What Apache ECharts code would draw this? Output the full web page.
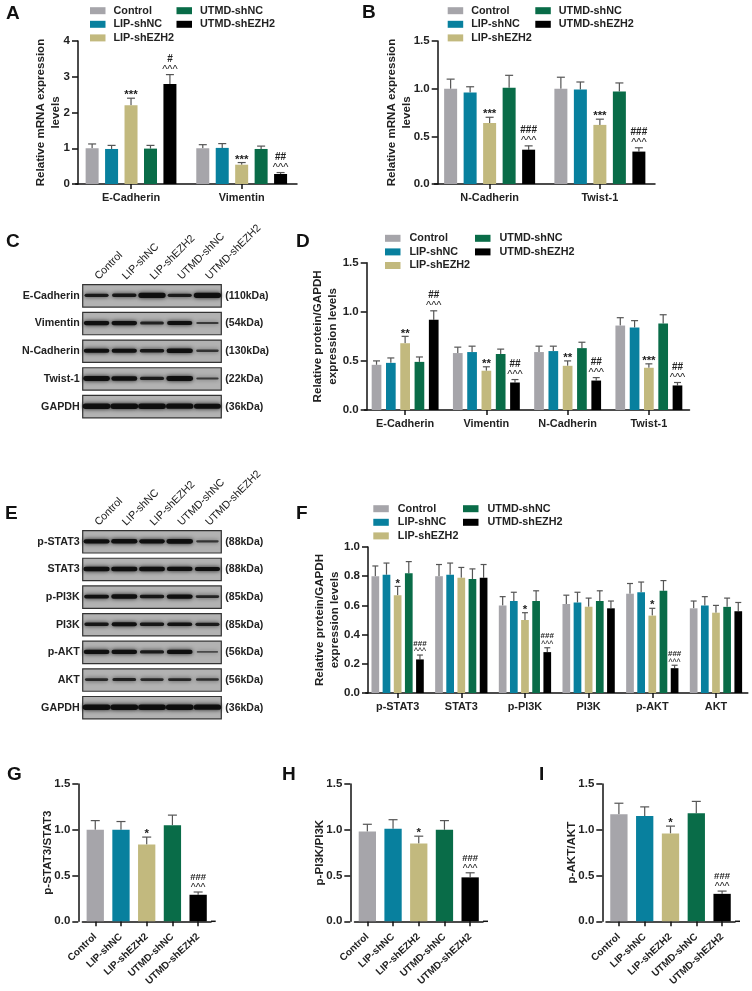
<!DOCTYPE html>
<html><head><meta charset="utf-8">
<style>html,body{margin:0;padding:0;background:#fff}#c{width:752px;height:991px}</style>
<script src="https://cdn.jsdelivr.net/npm/echarts@6/dist/echarts.min.js"></script>
</head><body><div id="c"></div>
<script>
const groups = ['Control','LIP-shNC','LIP-shEZH2','UTMD-shNC','UTMD-shEZH2'];
const colors = ['#A6A5AA','#08809E','#C2B97E','#096C48','#000000'];

// Panel A (one row per group)
const aCats = ['E-Cadherin','Vimentin'];
const aMeans = [[1.0,1.0],[0.98,1.01],[2.2,0.54],[0.99,0.98],[2.8,0.28]];
const aUppers = [[1.12,1.1],[1.08,1.13],[2.4,0.6],[1.08,1.06],[3.06,0.32]];
const aMarks = [['',''],['',''],['***','***'],['',''],['^^^ #','^^^ ##']];
// Panel B
const bCats = ['N-Cadherin','Twist-1'];
const bMeans = [[1.0,1.0],[0.96,0.99],[0.64,0.62],[1.01,0.97],[0.36,0.34]];
const bUppers = [[1.1,1.12],[1.02,1.07],[0.7,0.68],[1.14,1.06],[0.4,0.38]];
const bMarks = [['',''],['',''],['***','***'],['',''],['^^^ ###','^^^ ###']];
// Panel D
const dCats = ['E-Cadherin','Vimentin','N-Cadherin','Twist-1'];
const dMeans = [[0.46,0.58,0.59,0.86],[0.48,0.59,0.6,0.84],[0.68,0.4,0.45,0.43],[0.49,0.57,0.63,0.88],[0.92,0.28,0.3,0.25]];
const dUppers = [[0.5,0.64,0.65,0.94],[0.53,0.65,0.65,0.91],[0.75,0.44,0.5,0.47],[0.54,0.62,0.69,0.97],[1.01,0.31,0.33,0.28]];
const dMarks = [['','','',''],['','','',''],['**','**','**','***'],['','','',''],['^^^ ##','^^^ ##','^^^ ##','^^^ ##']];
// Panel F
const fCats = ['p-STAT3','STAT3','p-PI3K','PI3K','p-AKT','AKT'];
const fMeans = [[0.8,0.8,0.6,0.61,0.68,0.58],[0.81,0.81,0.63,0.62,0.69,0.6],[0.67,0.79,0.5,0.59,0.53,0.55],[0.82,0.78,0.63,0.63,0.7,0.59],[0.23,0.79,0.28,0.58,0.17,0.56]];
const fUppers = [[0.87,0.88,0.66,0.67,0.75,0.63],[0.89,0.89,0.69,0.69,0.76,0.66],[0.73,0.86,0.55,0.65,0.58,0.6],[0.9,0.85,0.7,0.7,0.77,0.65],[0.26,0.88,0.31,0.63,0.19,0.62]];
const fMarks = [['','','','','',''],['','','','','',''],['*','','*','','*',''],['','','','','',''],['^^^ ###','','^^^ ###','','^^^ ###','']];
// Panels G, H, I
const gMeans = [1.0,1.0,0.84,1.05,0.29];
const gUppers = [1.1,1.09,0.92,1.16,0.32];
const hMeans = [0.98,1.01,0.85,1.0,0.48];
const hUppers = [1.06,1.11,0.93,1.1,0.53];
const iMeans = [1.17,1.15,0.96,1.18,0.3];
const iUppers = [1.29,1.25,1.04,1.31,0.33];
const singleMarks = ['','','*','','^^^ ###'];
// Blots: relative band intensity, row by lane
const cRows = ['E-Cadherin','Vimentin','N-Cadherin','Twist-1','GAPDH'];
const cSizes = ['(110kDa)','(54kDa)','(130kDa)','(22kDa)','(36kDa)'];
const cBands = [[0.5,0.55,0.95,0.5,0.95],[0.7,0.7,0.45,0.65,0.25],[0.7,0.65,0.55,0.8,0.28],[0.88,0.75,0.5,0.88,0.25],[1,1,1,0.95,0.9]];
const eRows = ['p-STAT3','STAT3','p-PI3K','PI3K','p-AKT','AKT','GAPDH'];
const eSizes = ['(88kDa)','(88kDa)','(85kDa)','(85kDa)','(56kDa)','(56kDa)','(36kDa)'];
const eBands = [[0.75,0.8,0.7,0.85,0.28],[0.8,0.8,0.75,0.72,0.65],[0.6,0.78,0.55,0.75,0.42],[0.55,0.65,0.55,0.6,0.5],[0.72,0.7,0.5,0.72,0.12],[0.38,0.45,0.38,0.4,0.33],[1,1,1,1,0.95]];

const FONT = '"Liberation Sans", Arial, sans-serif';
const option = {animation:false, backgroundColor:'#fff', title:[], legend:[], grid:[], xAxis:[], yAxis:[], series:[], graphic:[]};

function letter(t,x,y){ option.title.push({text:t,left:x,top:y,padding:0,textStyle:{fontFamily:FONT,fontWeight:'bold',fontSize:19,color:'#111'}}); }
function legends(p,x1,x2,y,gap){
  const ts={fontFamily:FONT,fontWeight:'bold',fontSize:10.8,color:'#222',lineHeight:12,padding:[0,0,0,gap]};
  const base={orient:'vertical',icon:'rect',itemWidth:15.5,itemHeight:7,itemGap:1.6,padding:0,selectedMode:false,textStyle:ts,top:y};
  option.legend.push(Object.assign({},base,{left:x1,data:groups.slice(0,3)}));
  option.legend.push(Object.assign({},base,{left:x2,data:groups.slice(3)}));
}
function addGrid(p){
  const gi=option.grid.length;
  option.grid.push({left:p.left,top:p.top,width:p.right-p.left,height:p.bottom-p.top,containLabel:false});
  option.xAxis.push({type:'category',gridIndex:gi,data:p.cats,
    axisLine:{show:true,lineStyle:{color:'#111',width:1.5}},
    axisTick:{show:true,alignWithLabel:true,length:5,lineStyle:{color:'#111',width:1.5}},
    axisLabel:{interval:0,rotate:p.rotate||0,margin:p.rotate?14:8,fontFamily:FONT,fontWeight:'bold',fontSize:p.xFont||10.9,color:'#222'},splitLine:{show:false}});
  option.yAxis.push({type:'value',gridIndex:gi,min:0,max:p.max,interval:p.step,offset:p.left-p.axisX,
    name:p.name,nameLocation:'middle',nameGap:p.nameGap,nameMoveOverlap:false,nameTextStyle:{fontFamily:FONT,fontWeight:'bold',fontSize:p.nameFont||11.6,lineHeight:15,color:'#222'},
    axisLine:{show:true,lineStyle:{color:'#111',width:1.5}},
    axisTick:{show:true,length:6,lineStyle:{color:'#111',width:1.5}},
    axisLabel:{margin:8,fontFamily:FONT,fontWeight:'bold',fontSize:11.5,color:'#222',formatter:v=>v.toFixed(p.dec)},splitLine:{show:false}});
  if(p.axisEnd>p.right){
    option.graphic.push({type:'line',silent:true,shape:{x1:p.right,y1:p.bottom,x2:p.axisEnd,y2:p.bottom},style:{stroke:'#111',lineWidth:1.5}});
  }
  return gi;
}
function markItems(str,x,y,p){
  const out=[];
  str.split(' ').filter(Boolean).forEach(tok=>{
    let size,dy;
    if(tok[0]==='*'){size=11.5;dy=-3;}
    else if(tok[0]==='^'){size=p.caretSize;dy=-p.caretGap;}
    else {size=p.hashSize;dy=-p.hashGap;}
    out.push({type:'text',silent:true,style:{text:tok,x:x,y:y+dy,textAlign:'center',textVerticalAlign:'middle',fill:'#222',font:(tok[0]==='^'?'normal ':'bold ')+size+'px '+FONT}});
  });
  return out;
}
function errorSeries(gi,p,uppers,means,marks,offset,name){
  const data=uppers.map((u,i)=>[i,u,means[i]]);
  option.series.push({type:'custom',coordinateSystem:'cartesian2d',xAxisIndex:gi,yAxisIndex:gi,silent:true,z:1,data:data,encode:{x:0,y:1},
    renderItem:function(params,api){
      const top=api.coord([api.value(0),api.value(1)]);
      const mid=api.coord([api.value(0),api.value(2)]);
      const x=top[0]+offset, cw=p.cap;
      const st={stroke:'#555',lineWidth:1.2};
      return {type:'group',silent:true,children:[
        {type:'line',shape:{x1:x,y1:top[1],x2:x,y2:mid[1]},style:st},
        {type:'line',shape:{x1:x-cw,y1:top[1],x2:x+cw,y2:top[1]},style:st}
      ].concat(markItems(marks[params.dataIndex],x,top[1],p))};
    }});
}
function groupedPanel(p,means,uppers,marks){
  const gi=addGrid(p);
  groups.forEach((g,s)=>{
    option.series.push({type:'bar',name:g,xAxisIndex:gi,yAxisIndex:gi,data:means[s],barWidth:p.barW,barGap:((p.stepX-p.barW)/p.barW*100)+'%',z:2,itemStyle:{color:colors[s]}});
    errorSeries(gi,p,uppers[s],means[s],marks[s],(s-2)*p.stepX);
  });
}
function singlePanel(p,means,uppers,marks){
  const gi=addGrid(Object.assign({cats:groups,rotate:43,xFont:10},p));
  option.series.push({type:'bar',name:p.name,xAxisIndex:gi,yAxisIndex:gi,barWidth:p.barW,z:2,
    data:means.map((v,i)=>({value:v,itemStyle:{color:colors[i]}}))});
  errorSeries(gi,p,uppers,means,marks,0);
}
function blotPanel(p,rows,sizes,bands){
  const gi=option.grid.length;
  option.grid.push({left:p.left,top:p.top,width:p.right-p.left,height:p.bottom-p.top});
  option.xAxis.push({type:'category',gridIndex:gi,position:'top',data:groups,axisLine:{show:false},axisTick:{show:false},
    axisLabel:{interval:0,rotate:-45,margin:4,fontFamily:FONT,fontSize:10.7,color:'#222'}});
  const yb={type:'category',gridIndex:gi,inverse:true,data:rows,axisLine:{show:false},axisTick:{show:false}};
  option.yAxis.push(Object.assign({},yb,{position:'left',data:rows,axisLabel:{margin:3,fontFamily:FONT,fontWeight:'bold',fontSize:10.7,color:'#222'}}));
  option.yAxis.push(Object.assign({},yb,{position:'right',data:sizes,axisLabel:{margin:4,fontFamily:FONT,fontWeight:'bold',fontSize:10.5,color:'#222'}}));
  const yi=option.yAxis.length-2;
  option.series.push({type:'custom',coordinateSystem:'cartesian2d',xAxisIndex:gi,yAxisIndex:yi,silent:true,z:1,data:rows.map((r,i)=>[0,i]),encode:{x:0,y:1},
    renderItem:function(params,api){
      const c=api.coord([0,api.value(1)]), h=api.size([0,1])[1]*0.81, cs=params.coordSys;
      return {type:'rect',shape:{x:cs.x,y:c[1]-h/2,width:cs.width,height:h},style:{fill:'#B2B2B2',stroke:'#333',lineWidth:1.2}};
    }});
  const pts=[]; bands.forEach((row,r)=>row.forEach((v,l)=>pts.push([l,r,v])));
  option.series.push({type:'custom',coordinateSystem:'cartesian2d',xAxisIndex:gi,yAxisIndex:yi,silent:true,z:2,data:pts,encode:{x:0,y:1},
    renderItem:function(params,api){
      const c=api.coord([api.value(0),api.value(1)]), v=api.value(2), step=api.size([1,0])[0];
      const w=step*(0.74+0.26*v), t=1+4.5*v, a=0.5+0.45*Math.min(1,v*1.6);
      return {type:'rect',shape:{x:c[0]-w/2,y:c[1]-t/2-0.5,width:w,height:t,r:t/2},
        style:{fill:'rgba(12,12,12,'+a+')',shadowBlur:4,shadowColor:'rgba(12,12,12,'+a+')'}};
    }});
}

[['A',6,4],['B',362,3],['C',6,232],['D',296,232],['E',5,504],['F',296,504],['G',7,765],['H',282,765],['I',539,765]].forEach(a=>letter(a[0],a[1],a[2]));

legends('A',90,176.5,4.7,3);
legends('B',447.7,535.3,4.7,3);
legends('D',385,475,232.3,4);
legends('F',373.3,463,502.7,4);

const mTall={caretSize:11,hashSize:10,caretGap:4.6,hashGap:15.4};
groupedPanel(Object.assign({cats:aCats,left:75.7,right:297,top:41,bottom:184,axisX:78,axisEnd:295,max:4,step:1,dec:0,barW:13,stepX:19.45,cap:4,name:'Relative mRNA expression\nlevels',nameGap:15},mTall),aMeans,aUppers,aMarks);
groupedPanel(Object.assign({cats:bCats,left:434.5,right:655,top:41,bottom:184,axisX:437.7,axisEnd:652.7,max:1.5,step:0.5,dec:1,barW:13,stepX:19.5,cap:4,name:'Relative mRNA expression\nlevels',nameGap:23.5},mTall),bMeans,bUppers,bMarks);
groupedPanel(Object.assign({cats:dCats,left:364.5,right:689.5,top:262.7,bottom:410,axisX:366.7,axisEnd:688,max:1.5,step:0.5,dec:1,barW:9.7,stepX:14.3,cap:3.5,name:'Relative protein/GAPDH\nexpression levels',nameGap:26},mTall),dMeans,dUppers,dMarks);
groupedPanel({cats:fCats,left:365.8,right:747.8,top:547,bottom:693,axisX:368,axisEnd:746.7,max:1,step:0.2,dec:1,barW:7.7,stepX:11.15,cap:3,name:'Relative protein/GAPDH\nexpression levels',nameGap:26,caretSize:8.5,hashSize:8,caretGap:3,hashGap:11.7},fMeans,fUppers,fMarks);

const mSingle={caretSize:10.5,hashSize:9.6,caretGap:3.8,hashGap:14.7,max:1.5,step:0.5,dec:1,barW:17.3,cap:4.5,top:784,bottom:921.3};
singlePanel(Object.assign({left:82.4,right:211,axisX:78.3,axisEnd:215.7,name:'p-STAT3/STAT3',nameGap:23},mSingle),gMeans,gUppers,singleMarks);
singlePanel(Object.assign({left:354.5,right:483,axisX:350.3,axisEnd:488,name:'p-PI3K/PI3K',nameGap:23.5},mSingle),hMeans,hUppers,singleMarks);
singlePanel(Object.assign({left:606,right:735,axisX:602.3,axisEnd:740,name:'p-AKT/AKT',nameGap:23.5},mSingle),iMeans,iUppers,singleMarks);

blotPanel({left:82.7,right:221.3,top:282,bottom:420.5},cRows,cSizes,cBands);
blotPanel({left:82.7,right:221.3,top:528,bottom:721.5},eRows,eSizes,eBands);

echarts.init(document.getElementById('c'),null,{renderer:'canvas'}).setOption(option);
</script></body></html>
